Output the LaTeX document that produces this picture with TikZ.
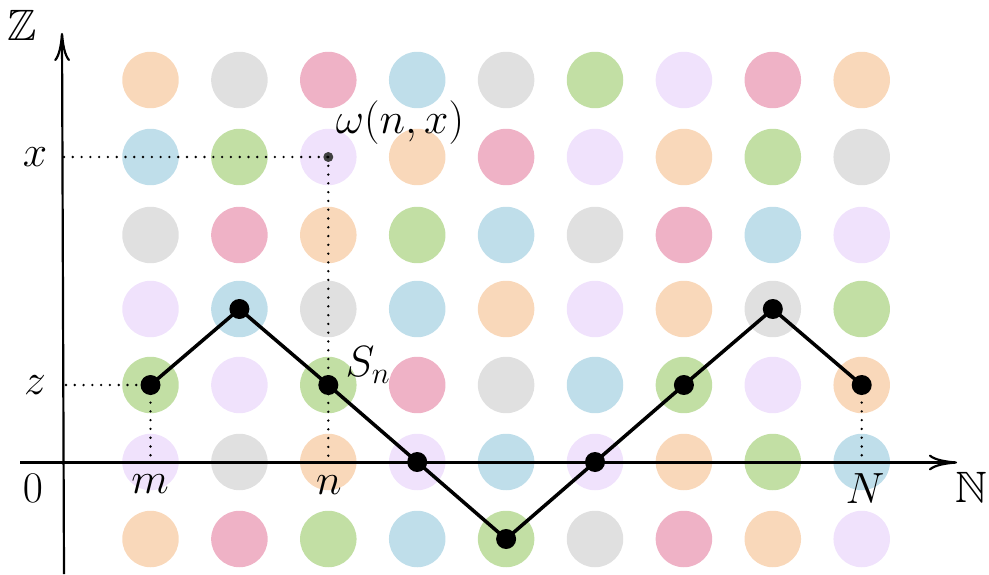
\documentclass[tikz,border=0pt]{standalone}
\usepackage{amssymb}
\usetikzlibrary{arrows.meta}
\definecolor{co}{HTML}{F9D8BA}
\definecolor{cg}{HTML}{E0E0E0}
\definecolor{cp}{HTML}{EFB2C6}
\definecolor{cb}{HTML}{BFDEEA}
\definecolor{cgr}{HTML}{C2DFA4}
\definecolor{cl}{HTML}{F0E2FC}
\definecolor{pointgray}{HTML}{404040}
\begin{document}
\begin{tikzpicture}[x=0.02cm,y=-0.02cm,
  disc/.style={circle,draw=none,inner sep=0pt,minimum size=1.13cm},
  walkdot/.style={circle,fill=black,inner sep=0pt,minimum size=0.4cm},
  walk/.style={line width=2pt},
  axis/.style={line width=1.25pt,-{Computer Modern Rightarrow[length=16pt,width=9pt]}},
  guide/.style={line width=1.5pt,line cap=round,dash pattern=on 0pt off 5pt},
  lbl/.style={inner sep=0pt,font=\fontsize{25}{30}\selectfont}]
\useasboundingbox (0,0) rectangle (989,574);
% grid of coloured discs
\foreach \r/\yy/\cols in {
  1/80/{co,cg,cp,cb,cg,cgr,cl,cp,co},
  2/157/{cb,cgr,cl,co,cp,cl,co,cgr,cg},
  3/235/{cg,cp,co,cgr,cb,cg,cp,cb,cl},
  4/309/{cl,cb,cg,cb,co,cl,co,cg,cgr},
  5/385/{cgr,cl,cgr,cp,cg,cb,cgr,cl,co},
  6/462/{cl,cg,co,cl,cb,cl,co,cgr,cb},
  7/539/{co,cp,cgr,cb,cgr,cg,cp,co,cl}} {
  \foreach \c [count=\i] in \cols {
    \node[disc,fill=\c] (c\r-\i) at ({150.5+88.9*(\i-1)},\yy) {};
  }
}
% axes
\coordinate (hx0) at (20,462.5);
\coordinate (hx1) at (957,462.5);
\coordinate (vy0) at (64,574);
\coordinate (vy1) at (62,33);
\draw[axis] (hx0) -- (hx1);
\draw[axis] (vy0) -- (vy1);
% walk points
\foreach \k/\p in {1/c5-1,2/c4-2,3/c5-3,4/c6-4,5/c7-5,6/c6-6,7/c5-7,8/c4-8,9/c5-9} {
  \node[walkdot] (s\k) at (\p.center) {};
}
% guide lines
\coordinate (ax) at (64,157);
\coordinate (az) at (66,385);
\coordinate (bm) at (c6-1.center);
\coordinate (bn) at (c6-3.center);
\coordinate (bN) at (c6-9.center);
\node[circle,fill=pointgray,inner sep=0pt,minimum size=0.2cm] (w) at (c2-3.center) {};
\draw[guide] (ax) -- (w.center);
\draw[guide] (w.center) -- (bn);
\draw[guide] (az) -- (s1.center);
\draw[guide] (s1.center) -- (bm);
\draw[guide] (s9.center) -- (bN);
% walk
\draw[walk] (s1.center) -- (s2.center) -- (s3.center) -- (s4.center) -- (s5.center)
  -- (s6.center) -- (s7.center) -- (s8.center) -- (s9.center);
% labels
\node[lbl] (lZ) at (22,25) {$\mathbb{Z}$};
\node[lbl] (lN) at (971,487) {$\mathbb{N}$};
\node[lbl] (l0) at (33,488) {$0$};
\node[lbl] (lx) at (35,157) {$x$};
\node[lbl] (lz) at (35,385) {$z$};
\node[lbl] (lm) at (150,484) {$m$};
\node[lbl] (ln) at (329,485) {$n$};
\node[lbl] (lNN) at (865,489) {$N$};
\node[lbl] (lw) at (400,123) {$\omega(n,x)$};
\node[lbl] (lS) at (368,365) {$S_n$};
\end{tikzpicture}
\end{document}
